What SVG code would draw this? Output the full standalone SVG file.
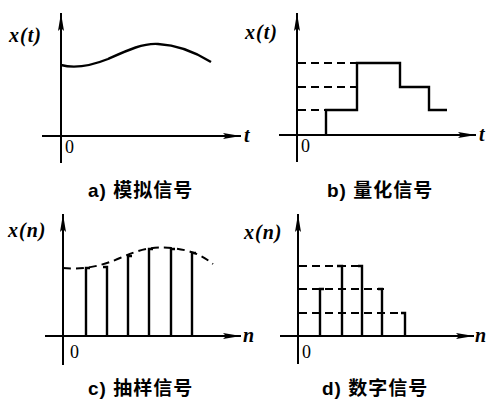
<svg xmlns="http://www.w3.org/2000/svg" width="487" height="401" viewBox="0 0 487 401">
<defs>
<marker id="ah" viewBox="0 0 18 7" refX="18" refY="3.5" markerWidth="18" markerHeight="7" markerUnits="userSpaceOnUse" orient="auto">
<path d="M0,0.5 L18,3.5 L0,6.5 L3,3.5 Z" fill="#000"/>
</marker>
</defs>
<style>
.ax{stroke:#000;stroke-width:2;fill:none}
.sig{stroke:#000;stroke-width:2.4;fill:none}
.dash{stroke:#000;stroke-width:2;fill:none;stroke-dasharray:8,5}
.lab{font-family:"Liberation Serif",serif;font-style:italic;font-weight:bold;font-size:20px;letter-spacing:1px;fill:#000}
.num{font-family:"Liberation Serif",serif;font-size:18px;fill:#000}
.cap{font-family:"Liberation Sans","Noto Sans CJK SC",sans-serif;font-size:19px;font-weight:bold;letter-spacing:1px;fill:#000}
</style>
<rect width="487" height="401" fill="#fff"/>
<g id="connectors">
<line class="ax" x1="61" y1="163" x2="61" y2="13" marker-end="url(#ah)"/>
<line class="ax" x1="42" y1="136" x2="241" y2="136" marker-end="url(#ah)"/>
<line class="ax" x1="297" y1="162" x2="297" y2="13" marker-end="url(#ah)"/>
<line class="ax" x1="279" y1="135" x2="476" y2="135" marker-end="url(#ah)"/>
<line class="ax" x1="63" y1="365" x2="63" y2="214" marker-end="url(#ah)"/>
<line class="ax" x1="45" y1="336" x2="241" y2="336" marker-end="url(#ah)"/>
<line class="ax" x1="298" y1="364" x2="298" y2="214" marker-end="url(#ah)"/>
<line class="ax" x1="280" y1="336" x2="474" y2="336" marker-end="url(#ah)"/>
</g>
<g id="panel-a">
<text class="lab" x="9" y="42">x(t)</text>
<text class="num" x="65" y="153">0</text>
<text class="lab" x="244" y="142">t</text>
<path class="sig" d="M61,65 C72,68 88,67 108,59 C128,50 143,43 158,44 C178,45 195,52 211,62"/>
<text class="cap" x="88" y="197">a) 模拟信号</text>
</g>
<g id="panel-b">
<text class="lab" x="245" y="39">x(t)</text>
<text class="num" x="301" y="152">0</text>
<text class="lab" x="479" y="141">t</text>
<line class="dash" x1="298" y1="63" x2="357" y2="63"/>
<line class="dash" x1="298" y1="87" x2="357" y2="87"/>
<line class="dash" x1="298" y1="110" x2="326" y2="110"/>
<path class="sig" d="M326,135 V110 H357 V63 H400 V87 H429 V110 H447"/>
<text class="cap" x="327" y="197">b)  量化信号</text>
</g>
<g id="panel-c">
<text class="lab" x="8" y="237">x(n)</text>
<text class="num" x="70" y="358">0</text>
<text class="lab" x="243" y="342">n</text>
<path class="dash" d="M63,268 C80,270 100,267 120,258 C140,249 155,246 172,248 C190,250 202,255 213,264"/>
<g class="sig">
<path d="M86,336 V268 H90"/>
<path d="M107,336 V267 H103"/>
<path d="M128,336 V256 H132"/>
<path d="M149,336 V249 H153"/>
<path d="M171,336 V249 H175"/>
<path d="M192,336 V253 H196"/>
</g>
<text class="cap" x="88" y="395">c) 抽样信号</text>
</g>
<g id="panel-d">
<text class="lab" x="244" y="239">x(n)</text>
<text class="num" x="302" y="358">0</text>
<text class="lab" x="475" y="342">n</text>
<line class="dash" x1="299" y1="266" x2="362" y2="266"/>
<line class="dash" x1="299" y1="289" x2="384" y2="289"/>
<line class="dash" x1="299" y1="313" x2="405" y2="313"/>
<g class="sig">
<path d="M320,336 V289 H324"/>
<path d="M342,336 V266 H337"/>
<path d="M362,336 V266 H358"/>
<path d="M382,336 V289 H378"/>
<path d="M405,336 V313 H401"/>
</g>
<text class="cap" x="322" y="395">d)  数字信号</text>
</g>
</svg>
